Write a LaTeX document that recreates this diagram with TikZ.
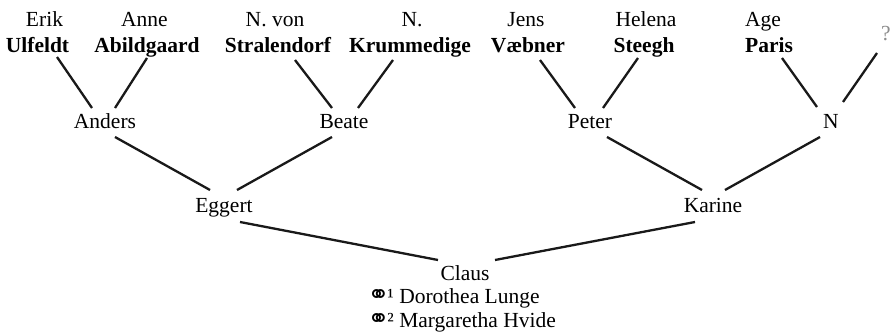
\documentclass[tikz,border=0pt]{standalone}
\usepackage{fontspec}
\setmainfont{Liberation Serif}
\newfontfamily\symf{DejaVu Sans}
\newcommand\marr{{\symf\fontsize{26}{26}\selectfont\kern-0.5pt ⚭\kern-2pt}}
\begin{document}
\begin{tikzpicture}[x=1pt,y=-1pt,
  nm/.style={inner sep=0pt,anchor=base,font=\fontsize{21.5}{25}\selectfont},
  sur/.style={nm,font=\fontsize{21.5}{25}\selectfont\bfseries},
  conn/.style={line width=2.3pt,black!90}]
\fill[white] (0,0) rectangle (892,332);
\useasboundingbox (0,0) rectangle (892,332);
% generation 4
\node[sur] (ulf) at (37.5,52) {Ulfeldt};
\node[nm] (erik) at (44.5,26) {Erik};
\node[sur] (abild) at (147,52) {Abildgaard};
\node[nm] (anne) at (144.5,26) {Anne};
\node[sur] (stral) at (278,52) {Stralendorf};
\node[nm] (nvon) at (275,26) {N. von};
\node[sur] (krum) at (410,52) {Krummedige};
\node[nm] (nk) at (412,26) {N.};
\node[sur] (vaeb) at (528,52) {Væbner};
\node[nm] (jens) at (526,26) {Jens};
\node[sur] (steegh) at (644,52) {Steegh};
\node[nm] (helena) at (646,26) {Helena};
\node[sur,anchor=base west] (paris) at (745,52) {Paris};
\node[nm,anchor=base west] (age) at (745,26) {Age};
\node[nm,text=black!45] (q) at (886,40) {?};
% generation 3
\node[nm] (anders) at (105,128) {Anders};
\node[nm] (beate) at (344,128) {Beate};
\node[nm] (peter) at (590,128) {Peter};
\node[nm] (nn) at (831,128) {N};
% generation 2
\node[nm] (eggert) at (224,212) {Eggert};
\node[nm] (karine) at (713,212) {Karine};
% generation 1
\node[nm] (claus) at (465,280) {Claus};
\node[nm,anchor=base west] (m1) at (368,303) {\marr¹ Dorothea Lunge};
\node[nm,anchor=base west] (m2) at (368,327) {\marr² Margaretha Hvide};
% connectors
\draw[conn] ([shift={(19.5,5)}]ulf.base) -- ([shift={(-13,-20)}]anders.base);
\draw[conn] ([shift={(0,6)}]abild.base) -- ([shift={(10,-20)}]anders.base);
\draw[conn] ([shift={(17,8)}]stral.base) -- ([shift={(-12,-20)}]beate.base);
\draw[conn] ([shift={(-17,8)}]krum.base) -- ([shift={(14,-20)}]beate.base);
\draw[conn] ([shift={(12,8)}]vaeb.base) -- ([shift={(-15,-20)}]peter.base);
\draw[conn] ([shift={(-6,6)}]steegh.base) -- ([shift={(13,-20)}]peter.base);
\draw[conn] ([shift={(37,6)}]paris.base west) -- ([shift={(-14,-21)}]nn.base);
\draw[conn] ([shift={(-9,13)}]q.base) -- ([shift={(12,-26)}]nn.base);
\draw[conn] ([shift={(10,9)}]anders.base) -- ([shift={(-14,-22)}]eggert.base);
\draw[conn] ([shift={(-12,9)}]beate.base) -- ([shift={(13,-22)}]eggert.base);
\draw[conn] ([shift={(17,9)}]peter.base) -- ([shift={(-11,-22)}]karine.base);
\draw[conn] ([shift={(-11,9)}]nn.base) -- ([shift={(12,-22)}]karine.base);
\draw[conn] ([shift={(16,10)}]eggert.base) -- ([shift={(-27,-20)}]claus.base);
\draw[conn] ([shift={(-18,10)}]karine.base) -- ([shift={(30,-20)}]claus.base);
\end{tikzpicture}
\end{document}
